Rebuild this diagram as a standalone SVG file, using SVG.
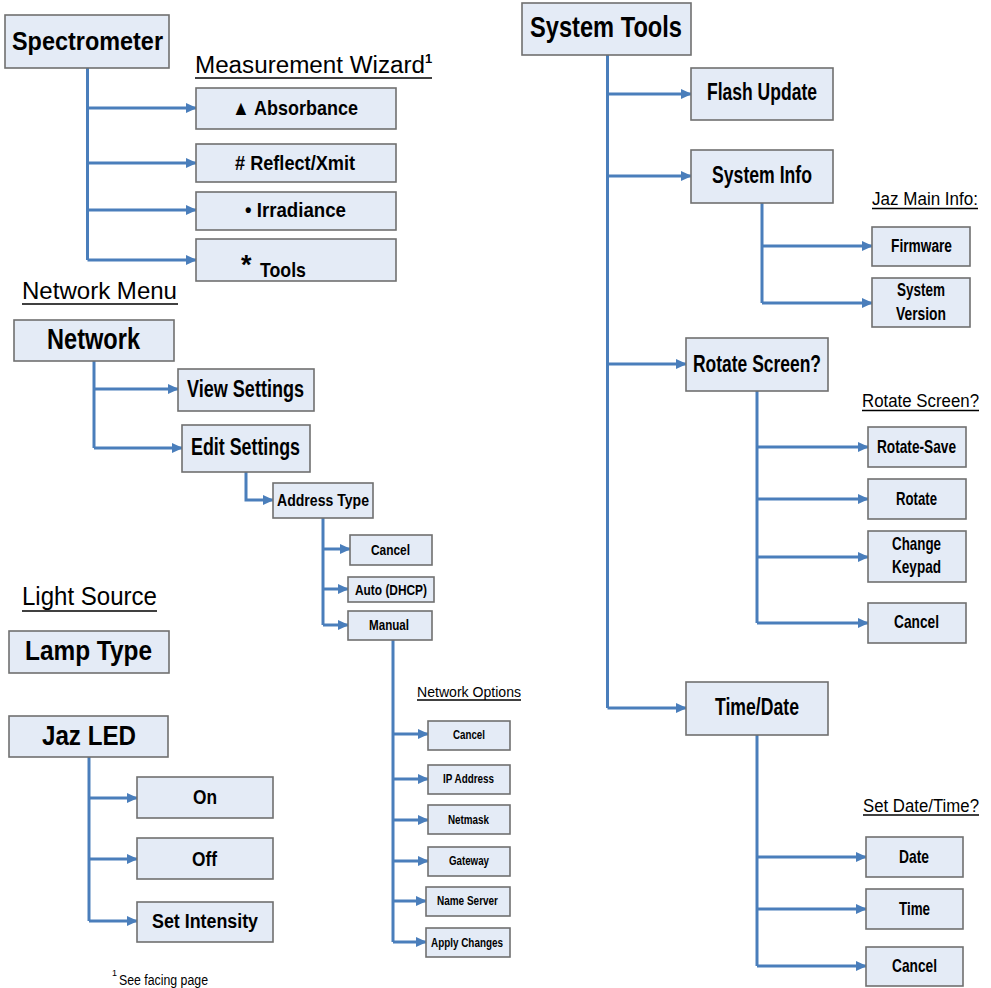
<svg xmlns="http://www.w3.org/2000/svg" width="991" height="988" viewBox="0 0 991 988">
<style>
.bx{fill:#E4EBF6;stroke:#707070;stroke-width:1.6}
.t{font-family:"Liberation Sans Narrow","Liberation Sans",Arial,sans-serif;font-weight:bold;fill:#000}
.h{font-family:"Liberation Sans Narrow","Liberation Sans",Arial,sans-serif;font-weight:normal;fill:#000}
.c{fill:none;stroke:#4A7EBB;stroke-width:3}
.a{fill:none;stroke:#4A7EBB;stroke-width:3;marker-end:url(#ah)}
.ul{stroke:#000;stroke-width:1.5}
</style>
<defs>
<marker id="ah" markerUnits="userSpaceOnUse" markerWidth="11" markerHeight="11" refX="10" refY="5" orient="auto" viewBox="0 0 11 10">
<path d="M0,0 L11,5 L0,10 z" fill="#4A7EBB"/>
</marker>
</defs>
<rect width="991" height="988" fill="#fff"/>

<g id="connectors">
<path class="c" d="M87.5,68 V260"/>
<path class="a" d="M87.5,108 H196"/>
<path class="a" d="M87.5,163 H196"/>
<path class="a" d="M87.5,210 H196"/>
<path class="a" d="M87.5,260 H196"/>
<path class="c" d="M94,361 V448"/>
<path class="a" d="M94,389 H178"/>
<path class="a" d="M94,448 H182"/>
<path class="a" d="M246,472 V500 H273"/>
<path class="c" d="M323,518 V625"/>
<path class="a" d="M323,549 H350"/>
<path class="a" d="M323,589 H348"/>
<path class="a" d="M323,625 H348"/>
<path class="c" d="M393,640 V942"/>
<path class="a" d="M393,734 H428"/>
<path class="a" d="M393,779 H428"/>
<path class="a" d="M393,820 H428"/>
<path class="a" d="M393,861 H428"/>
<path class="a" d="M393,901 H426"/>
<path class="a" d="M393,942 H426"/>
<path class="c" d="M89,757 V921"/>
<path class="a" d="M89,798 H137"/>
<path class="a" d="M89,859 H137"/>
<path class="a" d="M89,921 H137"/>
<path class="c" d="M607.5,55 V708"/>
<path class="a" d="M607.5,94 H691"/>
<path class="a" d="M607.5,176 H691"/>
<path class="a" d="M607.5,364 H686"/>
<path class="a" d="M607.5,708 H686"/>
<path class="c" d="M762,203 V303"/>
<path class="a" d="M762,246 H872"/>
<path class="a" d="M762,303 H872"/>
<path class="c" d="M757,391 V623"/>
<path class="a" d="M757,447 H868"/>
<path class="a" d="M757,499 H868"/>
<path class="a" d="M757,557 H868"/>
<path class="a" d="M757,623 H868"/>
<path class="c" d="M757,735 V966"/>
<path class="a" d="M757,857 H866"/>
<path class="a" d="M757,909 H866"/>
<path class="a" d="M757,966 H866"/>
</g>

<g id="labels">
<text class="h" x="195" y="73" font-size="23" textLength="230" lengthAdjust="spacingAndGlyphs">Measurement Wizard</text>
<text class="t" x="425" y="63" font-size="13">1</text>
<line class="ul" x1="195" y1="78" x2="432" y2="78"/>
<text class="h" x="22" y="299" font-size="24" textLength="155" lengthAdjust="spacingAndGlyphs">Network Menu</text>
<line class="ul" x1="22" y1="304" x2="178" y2="304"/>
<text class="h" x="22" y="605" font-size="25" textLength="135" lengthAdjust="spacingAndGlyphs">Light Source</text>
<line class="ul" x1="22" y1="611" x2="157" y2="611"/>
<text class="h" x="417" y="697" font-size="15" textLength="104" lengthAdjust="spacingAndGlyphs">Network Options</text>
<line class="ul" x1="417" y1="700" x2="521" y2="700"/>
<text class="h" x="872" y="205" font-size="17.5" textLength="106" lengthAdjust="spacingAndGlyphs">Jaz Main Info:</text>
<line class="ul" x1="872" y1="208.5" x2="978" y2="208.5"/>
<text class="h" x="862" y="407" font-size="17.5" textLength="117" lengthAdjust="spacingAndGlyphs">Rotate Screen?</text>
<line class="ul" x1="862" y1="410.5" x2="979" y2="410.5"/>
<text class="h" x="863" y="812" font-size="17.5" textLength="116" lengthAdjust="spacingAndGlyphs">Set Date/Time?</text>
<line class="ul" x1="863" y1="815" x2="979" y2="815"/>
<text class="h" x="112" y="976" font-size="9">1</text>
<text class="h" x="119" y="985" font-size="14" textLength="89" lengthAdjust="spacingAndGlyphs">See facing page</text>
</g>

<g id="n-spectrometer"><rect class="bx" x="5" y="15" width="164" height="53"/><text class="t" x="12" y="50" font-size="26" textLength="151" lengthAdjust="spacingAndGlyphs">Spectrometer</text></g>
<g id="n-absorbance"><rect class="bx" x="196" y="88" width="200" height="41"/><text class="t" x="232" y="115" font-size="21" textLength="126" lengthAdjust="spacingAndGlyphs">▲ Absorbance</text></g>
<g id="n-reflect"><rect class="bx" x="196" y="144" width="200" height="38"/><text class="t" x="235" y="170" font-size="21" textLength="120" lengthAdjust="spacingAndGlyphs"># Reflect/Xmit</text></g>
<g id="n-irradiance"><rect class="bx" x="196" y="192" width="200" height="38"/><text class="t" x="245" y="217" font-size="21" textLength="101" lengthAdjust="spacingAndGlyphs">• Irradiance</text></g>
<g id="n-tools"><rect class="bx" x="196" y="239" width="200" height="42"/><text class="t" x="241" y="274" font-size="27">*</text><text class="t" x="260" y="277" font-size="21" textLength="46" lengthAdjust="spacingAndGlyphs">Tools</text></g>

<g id="n-network"><rect class="bx" x="14" y="320" width="160" height="41"/><text class="t" x="47" y="349" font-size="29" textLength="93" lengthAdjust="spacingAndGlyphs">Network</text></g>
<g id="n-view"><rect class="bx" x="178" y="369" width="136" height="42"/><text class="t" x="187" y="397" font-size="23" textLength="117" lengthAdjust="spacingAndGlyphs">View Settings</text></g>
<g id="n-edit"><rect class="bx" x="182" y="425" width="128" height="47"/><text class="t" x="191" y="455" font-size="23" textLength="109" lengthAdjust="spacingAndGlyphs">Edit Settings</text></g>
<g id="n-address"><rect class="bx" x="273" y="483" width="100" height="35"/><text class="t" x="277" y="506" font-size="17" textLength="92" lengthAdjust="spacingAndGlyphs">Address Type</text></g>
<g id="n-acancel"><rect class="bx" x="350" y="535" width="82" height="30"/><text class="t" x="371" y="555" font-size="15" textLength="39" lengthAdjust="spacingAndGlyphs">Cancel</text></g>
<g id="n-auto"><rect class="bx" x="348" y="577" width="86" height="25"/><text class="t" x="355" y="595" font-size="15" textLength="72" lengthAdjust="spacingAndGlyphs">Auto (DHCP)</text></g>
<g id="n-manual"><rect class="bx" x="348" y="611" width="84" height="29"/><text class="t" x="369" y="630" font-size="15" textLength="40" lengthAdjust="spacingAndGlyphs">Manual</text></g>

<g id="n-ocancel"><rect class="bx" x="428" y="721" width="82" height="29"/><text class="t" x="453" y="739" font-size="13" textLength="32" lengthAdjust="spacingAndGlyphs">Cancel</text></g>
<g id="n-ip"><rect class="bx" x="428" y="765" width="82" height="29"/><text class="t" x="443" y="783" font-size="13" textLength="51" lengthAdjust="spacingAndGlyphs">IP Address</text></g>
<g id="n-netmask"><rect class="bx" x="428" y="805" width="82" height="29"/><text class="t" x="448" y="824" font-size="13" textLength="41" lengthAdjust="spacingAndGlyphs">Netmask</text></g>
<g id="n-gateway"><rect class="bx" x="428" y="847" width="82" height="29"/><text class="t" x="449" y="865" font-size="13" textLength="40" lengthAdjust="spacingAndGlyphs">Gateway</text></g>
<g id="n-nameserver"><rect class="bx" x="426" y="887" width="84" height="29"/><text class="t" x="437" y="905" font-size="13" textLength="61" lengthAdjust="spacingAndGlyphs">Name Server</text></g>
<g id="n-apply"><rect class="bx" x="426" y="928" width="84" height="29"/><text class="t" x="431" y="947" font-size="13" textLength="72" lengthAdjust="spacingAndGlyphs">Apply Changes</text></g>

<g id="n-lamp"><rect class="bx" x="9" y="631" width="160" height="42"/><text class="t" x="25" y="660" font-size="28" textLength="127" lengthAdjust="spacingAndGlyphs">Lamp Type</text></g>
<g id="n-jazled"><rect class="bx" x="9" y="716" width="159" height="41"/><text class="t" x="42" y="745" font-size="28" textLength="94" lengthAdjust="spacingAndGlyphs">Jaz LED</text></g>
<g id="n-on"><rect class="bx" x="137" y="777" width="136" height="41"/><text class="t" x="193" y="804" font-size="20" textLength="24" lengthAdjust="spacingAndGlyphs">On</text></g>
<g id="n-off"><rect class="bx" x="137" y="838" width="136" height="41"/><text class="t" x="192" y="866" font-size="20" textLength="25" lengthAdjust="spacingAndGlyphs">Off</text></g>
<g id="n-intensity"><rect class="bx" x="137" y="902" width="136" height="40"/><text class="t" x="152" y="928" font-size="20" textLength="106" lengthAdjust="spacingAndGlyphs">Set Intensity</text></g>

<g id="n-systemtools"><rect class="bx" x="522" y="3" width="169" height="52"/><text class="t" x="530" y="37" font-size="30" textLength="152" lengthAdjust="spacingAndGlyphs">System Tools</text></g>
<g id="n-flash"><rect class="bx" x="691" y="68" width="142" height="52"/><text class="t" x="707" y="100" font-size="23" textLength="110" lengthAdjust="spacingAndGlyphs">Flash Update</text></g>
<g id="n-sysinfo"><rect class="bx" x="691" y="150" width="142" height="53"/><text class="t" x="712" y="183" font-size="23" textLength="100" lengthAdjust="spacingAndGlyphs">System Info</text></g>
<g id="n-firmware"><rect class="bx" x="872" y="227" width="98" height="39"/><text class="t" x="891" y="252" font-size="18" textLength="61" lengthAdjust="spacingAndGlyphs">Firmware</text></g>
<g id="n-sysversion"><rect class="bx" x="872" y="278" width="98" height="49"/><text class="t" x="897" y="296" font-size="18" textLength="48" lengthAdjust="spacingAndGlyphs">System</text><text class="t" x="896" y="320" font-size="18" textLength="50" lengthAdjust="spacingAndGlyphs">Version</text></g>
<g id="n-rotatescreen"><rect class="bx" x="686" y="338" width="142" height="53"/><text class="t" x="693" y="372" font-size="23" textLength="128" lengthAdjust="spacingAndGlyphs">Rotate Screen?</text></g>
<g id="n-rotatesave"><rect class="bx" x="868" y="427" width="98" height="40"/><text class="t" x="877" y="453" font-size="19" textLength="79" lengthAdjust="spacingAndGlyphs">Rotate-Save</text></g>
<g id="n-rotate"><rect class="bx" x="868" y="479" width="98" height="40"/><text class="t" x="896" y="505" font-size="19" textLength="41" lengthAdjust="spacingAndGlyphs">Rotate</text></g>
<g id="n-keypad"><rect class="bx" x="868" y="531" width="98" height="51"/><text class="t" x="892" y="550" font-size="19" textLength="49" lengthAdjust="spacingAndGlyphs">Change</text><text class="t" x="892" y="573" font-size="19" textLength="49" lengthAdjust="spacingAndGlyphs">Keypad</text></g>
<g id="n-rcancel"><rect class="bx" x="868" y="603" width="98" height="40"/><text class="t" x="894" y="628" font-size="19" textLength="45" lengthAdjust="spacingAndGlyphs">Cancel</text></g>
<g id="n-timedate"><rect class="bx" x="686" y="682" width="142" height="53"/><text class="t" x="715" y="715" font-size="23" textLength="84" lengthAdjust="spacingAndGlyphs">Time/Date</text></g>
<g id="n-date"><rect class="bx" x="866" y="837" width="97" height="40"/><text class="t" x="899" y="863" font-size="19" textLength="30" lengthAdjust="spacingAndGlyphs">Date</text></g>
<g id="n-time"><rect class="bx" x="866" y="889" width="97" height="40"/><text class="t" x="899" y="915" font-size="19" textLength="31" lengthAdjust="spacingAndGlyphs">Time</text></g>
<g id="n-tcancel"><rect class="bx" x="866" y="947" width="97" height="39"/><text class="t" x="892" y="972" font-size="19" textLength="45" lengthAdjust="spacingAndGlyphs">Cancel</text></g>
</svg>
